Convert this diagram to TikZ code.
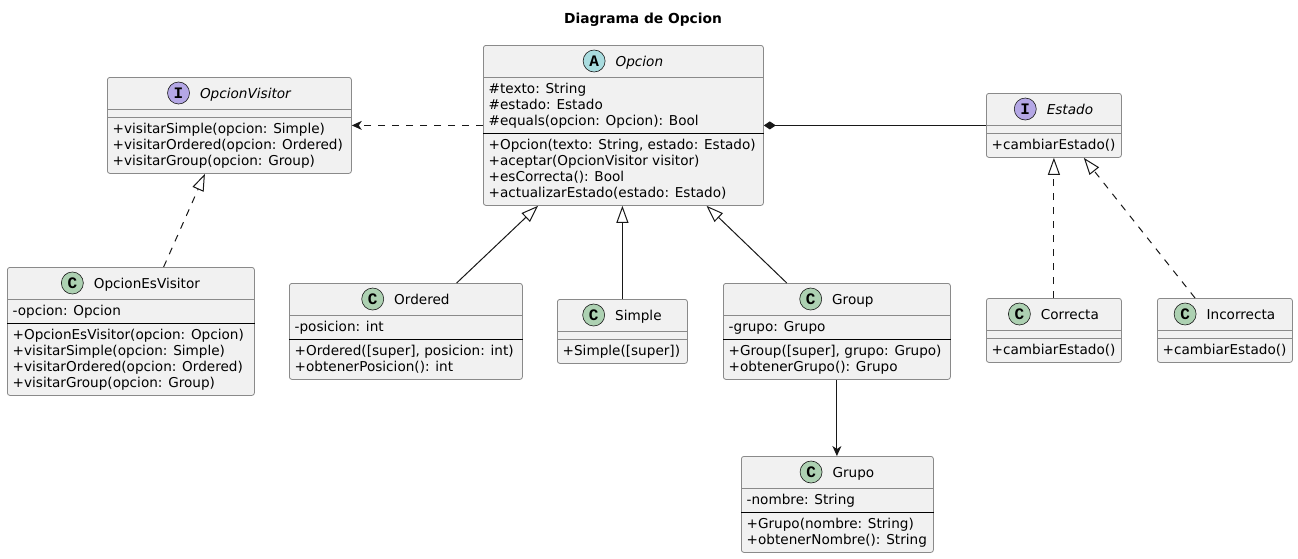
\documentclass[tikz,border=0pt]{standalone}
\usepackage{fontspec}
\setmainfont{DejaVu Sans}
\newfontfamily\iconfont{Liberation Mono}
\usetikzlibrary{positioning,calc,arrows.meta}
\definecolor{umlfill}{HTML}{F1F1F1}
\definecolor{umlline}{HTML}{181818}
\definecolor{umlborder}{HTML}{8A8A8A}
\definecolor{iconA}{HTML}{A9DCDF}
\definecolor{iconI}{HTML}{B4A7E5}
\definecolor{iconC}{HTML}{ADD1B2}
\newcommand{\memberfont}{\fontsize{13.6}{16}\selectfont}
\newcommand{\fstrut}{\rule{0pt}{12.3pt}}
\tikzset{
    classbox/.style={draw=umlborder, line width=0.8pt, fill=umlfill, rounded corners=2.5pt, inner sep=0pt, anchor=north west},
    headsep/.style={draw=umlborder, line width=0.8pt},
    membersep/.style={draw=black, line width=1pt},
    classname/.style={inner sep=0pt, font=\memberfont, text height=10pt, text depth=0pt},
    abstractname/.style={classname, font=\memberfont\itshape},
    classicon/.style={circle, draw=umlline, line width=0.6pt, inner sep=0pt, minimum size=22pt, font=\iconfont\fontsize{16}{16}\selectfont\bfseries},
    members/.style={anchor=north west, inner sep=0pt, align=left, font=\memberfont},
    titletext/.style={inner sep=0pt, font=\fontsize{13.8}{16}\selectfont\bfseries, text height=10pt, text depth=0pt},
    inherit/.style={draw=umlline, line width=1pt, -{Triangle[open, length=17pt, width=12pt]}},
    realize/.style={inherit, dash pattern=on 7pt off 7pt},
    depend/.style={draw=umlline, line width=1pt, dash pattern=on 7pt off 7pt, -{Stealth[length=10pt, width=9pt, inset=3pt]}},
    assoc/.style={draw=umlline, line width=1pt, -{Stealth[length=10pt, width=9pt, inset=3pt]}},
    compose/.style={draw=umlline, line width=1pt, {Diamond[length=12pt, width=8pt]}-}
}
\begin{document}
\begin{tikzpicture}[x=1pt,y=-1pt]
    \fill[white] (0,0) rectangle (1298,558);
    \useasboundingbox (0,0) rectangle (1298,558);
    \node[titletext] (title) at (643,18) {Diagrama de Opcion};

    \node[classbox, minimum width=244pt, minimum height=96pt] (visitor) at (107,77) {};
    \draw[headsep] ([yshift=-32pt]visitor.north west) -- ([yshift=-32pt]visitor.north east);
    \draw[headsep] ([yshift=-40pt]visitor.north west) -- ([yshift=-40pt]visitor.north east);
    \node[abstractname] (visitor-name) at ([xshift=16pt,yshift=-16pt]visitor.north) {OpcionVisitor};
    \node[classicon, fill=iconI, left=10pt of visitor-name] (visitor-icon) {I};
    \node[members] (visitor-methods) at ([xshift=5.5pt,yshift=-44.2pt]visitor.north west) {\fstrut+visitarSimple(opcion: Simple)\\+visitarOrdered(opcion: Ordered)\\+visitarGroup(opcion: Group)};

    \node[classbox, minimum width=247pt, minimum height=128pt] (esvisitor) at (7,267) {};
    \draw[headsep] ([yshift=-32pt]esvisitor.north west) -- ([yshift=-32pt]esvisitor.north east);
    \draw[membersep] ([yshift=-56pt]esvisitor.north west) -- ([yshift=-56pt]esvisitor.north east);
    \node[classname] (esvisitor-name) at ([xshift=16pt,yshift=-16pt]esvisitor.north) {OpcionEsVisitor};
    \node[classicon, fill=iconC, left=10pt of esvisitor-name] (esvisitor-icon) {C};
    \node[members] (esvisitor-attrs) at ([xshift=5.5pt,yshift=-36.2pt]esvisitor.north west) {\fstrut-opcion: Opcion};
    \node[members] (esvisitor-methods) at ([xshift=5.5pt,yshift=-60.2pt]esvisitor.north west) {\fstrut+OpcionEsVisitor(opcion: Opcion)\\+visitarSimple(opcion: Simple)\\+visitarOrdered(opcion: Ordered)\\+visitarGroup(opcion: Group)};

    \node[classbox, minimum width=280pt, minimum height=160pt] (opcion) at (483,45) {};
    \draw[headsep] ([yshift=-32pt]opcion.north west) -- ([yshift=-32pt]opcion.north east);
    \draw[membersep] ([yshift=-88pt]opcion.north west) -- ([yshift=-88pt]opcion.north east);
    \node[abstractname] (opcion-name) at ([xshift=16pt,yshift=-16pt]opcion.north) {Opcion};
    \node[classicon, fill=iconA, left=10pt of opcion-name] (opcion-icon) {A};
    \node[members] (opcion-attrs) at ([xshift=5.5pt,yshift=-36.2pt]opcion.north west) {\fstrut\#texto: String\\\#estado: Estado\\\#equals(opcion: Opcion): Bool};
    \node[members] (opcion-methods) at ([xshift=5.5pt,yshift=-92.2pt]opcion.north west) {\fstrut+Opcion(texto: String, estado: Estado)\\+aceptar(OpcionVisitor visitor)\\+esCorrecta(): Bool\\+actualizarEstado(estado: Estado)};

    \node[classbox, minimum width=135pt, minimum height=64pt] (estado) at (986,93) {};
    \draw[headsep] ([yshift=-32pt]estado.north west) -- ([yshift=-32pt]estado.north east);
    \draw[headsep] ([yshift=-40pt]estado.north west) -- ([yshift=-40pt]estado.north east);
    \node[abstractname] (estado-name) at ([xshift=16pt,yshift=-16pt]estado.north) {Estado};
    \node[classicon, fill=iconI, left=10pt of estado-name] (estado-icon) {I};
    \node[members] (estado-methods) at ([xshift=5.5pt,yshift=-44.2pt]estado.north west) {\fstrut+cambiarEstado()};

    \node[classbox, minimum width=233pt, minimum height=96pt] (ordered) at (289,283) {};
    \draw[headsep] ([yshift=-32pt]ordered.north west) -- ([yshift=-32pt]ordered.north east);
    \draw[membersep] ([yshift=-56pt]ordered.north west) -- ([yshift=-56pt]ordered.north east);
    \node[classname] (ordered-name) at ([xshift=16pt,yshift=-16pt]ordered.north) {Ordered};
    \node[classicon, fill=iconC, left=10pt of ordered-name] (ordered-icon) {C};
    \node[members] (ordered-attrs) at ([xshift=5.5pt,yshift=-36.2pt]ordered.north west) {\fstrut-posicion: int};
    \node[members] (ordered-methods) at ([xshift=5.5pt,yshift=-60.2pt]ordered.north west) {\fstrut+Ordered([super], posicion: int)\\+obtenerPosicion(): int};

    \node[classbox, minimum width=130pt, minimum height=64pt] (simple) at (557,299) {};
    \draw[headsep] ([yshift=-32pt]simple.north west) -- ([yshift=-32pt]simple.north east);
    \draw[headsep] ([yshift=-40pt]simple.north west) -- ([yshift=-40pt]simple.north east);
    \node[classname] (simple-name) at ([xshift=16pt,yshift=-16pt]simple.north) {Simple};
    \node[classicon, fill=iconC, left=10pt of simple-name] (simple-icon) {C};
    \node[members] (simple-methods) at ([xshift=5.5pt,yshift=-44.2pt]simple.north west) {\fstrut+Simple([super])};

    \node[classbox, minimum width=227pt, minimum height=96pt] (group) at (723,283) {};
    \draw[headsep] ([yshift=-32pt]group.north west) -- ([yshift=-32pt]group.north east);
    \draw[membersep] ([yshift=-56pt]group.north west) -- ([yshift=-56pt]group.north east);
    \node[classname] (group-name) at ([xshift=16pt,yshift=-16pt]group.north) {Group};
    \node[classicon, fill=iconC, left=10pt of group-name] (group-icon) {C};
    \node[members] (group-attrs) at ([xshift=5.5pt,yshift=-36.2pt]group.north west) {\fstrut-grupo: Grupo};
    \node[members] (group-methods) at ([xshift=5.5pt,yshift=-60.2pt]group.north west) {\fstrut+Group([super], grupo: Grupo)\\+obtenerGrupo(): Grupo};

    \node[classbox, minimum width=192pt, minimum height=96pt] (grupo) at (741,456) {};
    \draw[headsep] ([yshift=-32pt]grupo.north west) -- ([yshift=-32pt]grupo.north east);
    \draw[membersep] ([yshift=-56pt]grupo.north west) -- ([yshift=-56pt]grupo.north east);
    \node[classname] (grupo-name) at ([xshift=16pt,yshift=-16pt]grupo.north) {Grupo};
    \node[classicon, fill=iconC, left=10pt of grupo-name] (grupo-icon) {C};
    \node[members] (grupo-attrs) at ([xshift=5.5pt,yshift=-36.2pt]grupo.north west) {\fstrut-nombre: String};
    \node[members] (grupo-methods) at ([xshift=5.5pt,yshift=-60.2pt]grupo.north west) {\fstrut+Grupo(nombre: String)\\+obtenerNombre(): String};

    \node[classbox, minimum width=135pt, minimum height=64pt] (correcta) at (986,298) {};
    \draw[headsep] ([yshift=-32pt]correcta.north west) -- ([yshift=-32pt]correcta.north east);
    \draw[headsep] ([yshift=-40pt]correcta.north west) -- ([yshift=-40pt]correcta.north east);
    \node[classname] (correcta-name) at ([xshift=16pt,yshift=-16pt]correcta.north) {Correcta};
    \node[classicon, fill=iconC, left=10pt of correcta-name] (correcta-icon) {C};
    \node[members] (correcta-methods) at ([xshift=5.5pt,yshift=-44.2pt]correcta.north west) {\fstrut+cambiarEstado()};

    \node[classbox, minimum width=135pt, minimum height=64pt] (incorrecta) at (1157,298) {};
    \draw[headsep] ([yshift=-32pt]incorrecta.north west) -- ([yshift=-32pt]incorrecta.north east);
    \draw[headsep] ([yshift=-40pt]incorrecta.north west) -- ([yshift=-40pt]incorrecta.north east);
    \node[classname] (incorrecta-name) at ([xshift=16pt,yshift=-16pt]incorrecta.north) {Incorrecta};
    \node[classicon, fill=iconC, left=10pt of incorrecta-name] (incorrecta-icon) {C};
    \node[members] (incorrecta-methods) at ([xshift=5.5pt,yshift=-44.2pt]incorrecta.north west) {\fstrut+cambiarEstado()};

    \draw[depend] (opcion.west) -- (visitor.east);
    \draw[compose] (opcion.east) -- (estado.west);
    \draw[realize] ($(esvisitor.north west)!0.632!(esvisitor.north east)$) -- ($(visitor.south west)!0.4!(visitor.south east)$);
    \draw[inherit] ($(ordered.north west)!0.717!(ordered.north east)$) -- ($(opcion.south west)!0.196!(opcion.south east)$);
    \draw[inherit] (simple.north) -- (simple.north |- opcion.south);
    \draw[inherit] ($(group.north west)!0.28!(group.north east)$) -- ($(opcion.south west)!0.796!(opcion.south east)$);
    \draw[assoc] (group.south) -- (group.south |- grupo.north);
    \draw[realize] (correcta.north) -- (estado.south);
    \draw[realize] ($(incorrecta.north west)!0.28!(incorrecta.north east)$) -- ($(estado.south west)!0.72!(estado.south east)$);
\end{tikzpicture}
\end{document}
